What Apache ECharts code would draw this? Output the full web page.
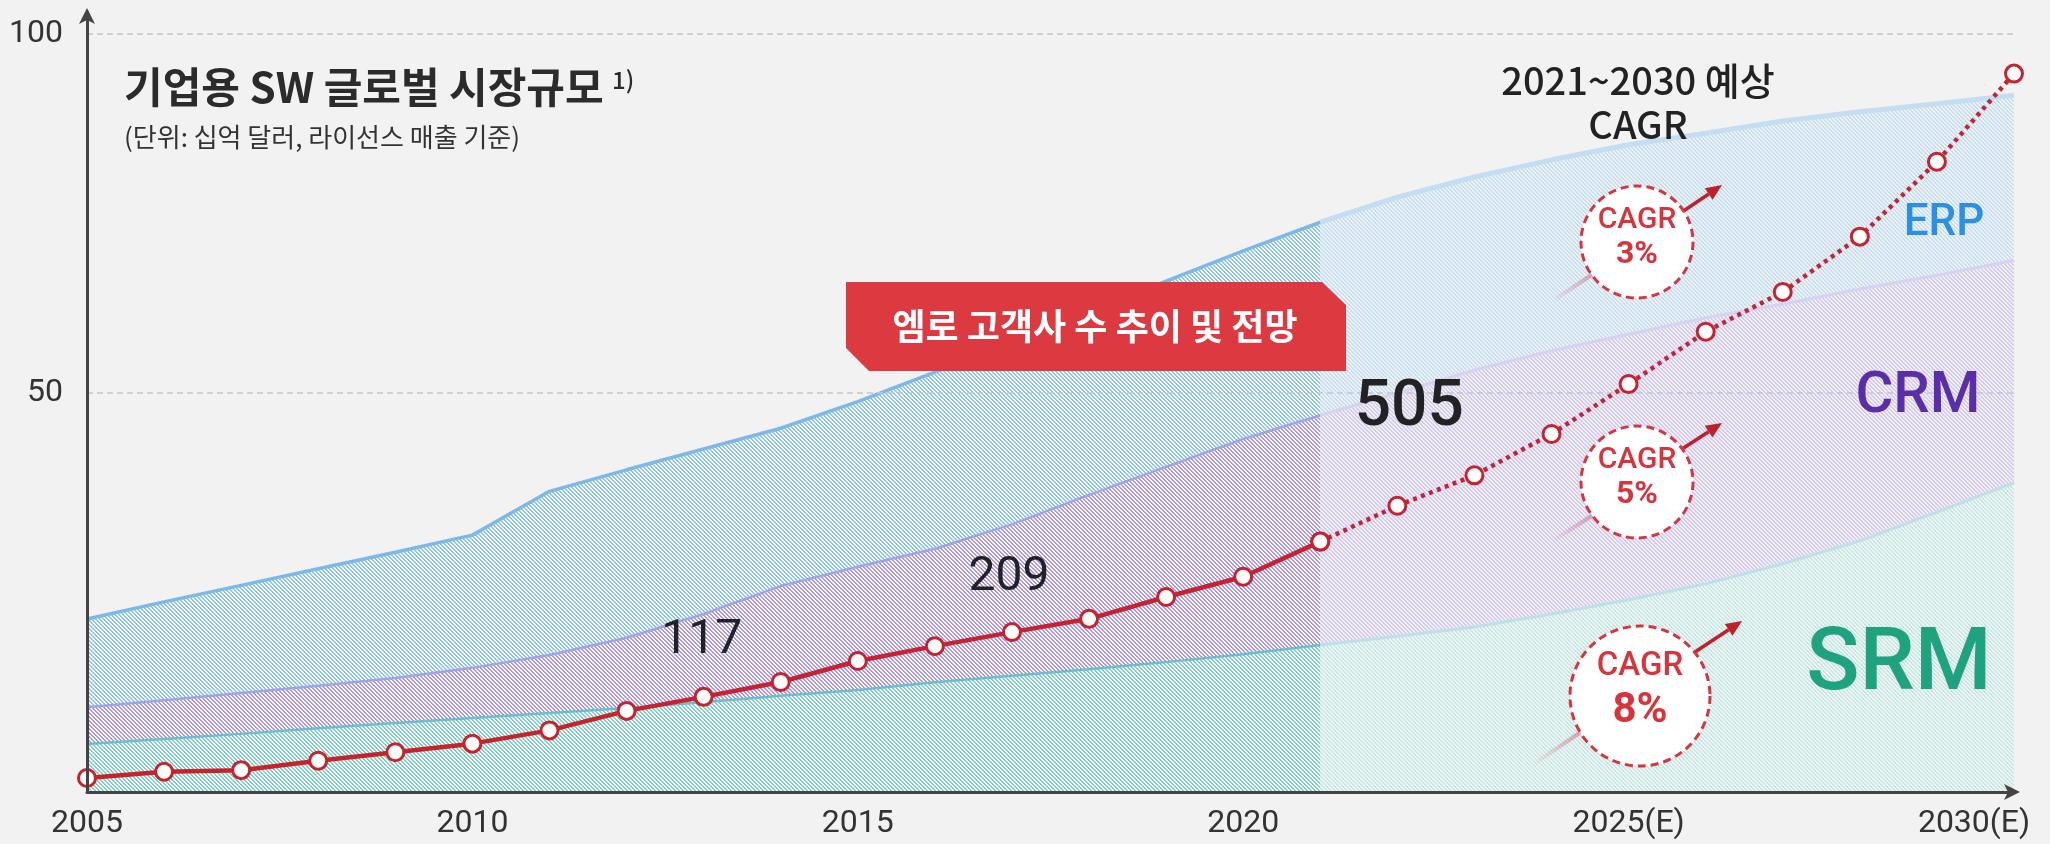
<!DOCTYPE html>
<html>
<head>
<meta charset="utf-8">
<script src="https://cdn.jsdelivr.net/npm/echarts@6/dist/echarts.min.js"></script>
<style>
  html, body { margin: 0; padding: 0; background: #f2f2f2; }
  #chart { width: 2050px; height: 844px; }
</style>
</head>
<body>
<div id="chart"></div>
<script>
// 연도 (카테고리)
const years = ['2005', '2006', '2007', '2008', '2009', '2010', '2011', '2012', '2013', '2014',
  '2015', '2016', '2017', '2018', '2019', '2020', '2021', '2022', '2023', '2024',
  '2025', '2026', '2027', '2028', '2029', '2030']

// 실적 구간 2005~2021 (SRM 은 축 하단부터 쌓임)
const srmActual = [1.1, 1.8, 2.5, 3.3, 4.0, 4.7, 5.4, 6.1, 6.9, 7.8, 8.6, 9.7, 10.6, 11.5, 12.5, 13.6, 14.9]
const crmActual = [5.1, 5.4, 5.7, 5.9, 6.3, 7.0, 8.1, 9.8, 12.3, 15.3, 17.2, 18.6, 21.1, 24.3, 27.2, 30.0, 32.0]
const erpActual = [12.3, 13.7, 15.0, 16.3, 17.5, 18.5, 22.8, 23.4, 23.0, 22.0, 23.0, 24.6, 25.4, 25.6, 25.9, 26.2, 26.9]

// 전망 구간 2021~2030
const srmForecast = [14.9, 16.1, 17.4, 19.2, 21.2, 23.4, 26.2, 29.4, 33.4, 37.5]
const crmForecast = [32.0, 33.9, 35.8, 36.7, 37.0, 37.1, 36.2, 35.1, 33.0, 31.0]
const erpForecast = [26.9, 27.3, 26.9, 26.6, 26.4, 25.7, 25.5, 24.7, 23.9, 23.0]

// 엠로 고객사 수 추이 (상대 높이, 2005~2030)
const customers = [1.8, 2.6, 2.8, 4.0, 5.1, 6.2, 7.9, 10.4, 12.2, 14.1, 16.8, 18.7, 20.5, 22.2,
  25.0, 27.6, 32.1, 36.7, 40.6, 45.9, 52.3, 59.0, 64.1, 71.2, 80.8, 92.1]
const customerYears = ['2013', '2017', '2021']
const customerCounts = ['117', '209', '505']

// y축 눈금
const yTicks = [50, 100]
const cagrRates = ['3%', '5%', '8%']

const lastActual = years.indexOf('2021')

function hatch(stripe, bg) {
    let c = document.createElement('canvas')
    c.width = 4
    c.height = 4
    let ctx = c.getContext('2d')
    ctx.fillStyle = bg
    ctx.fillRect(0, 0, 4, 4)
    ctx.fillStyle = stripe
    for (let y = 0; y < 4; y++) {
        for (let x = 0; x < 4; x++) {
            if ((((x - y) % 4) + 4) % 4 < 2) ctx.fillRect(x, y, 1, 1)
        }
    }
    return { image: c, repeat: 'repeat' }
}

function padActual(arr) {
    return arr.concat(new Array(years.length - arr.length).fill('-'))
}
function padForecast(arr) {
    return new Array(years.length - arr.length).fill('-').concat(arr)
}

function areaSeries(name, data, stack, fill, lineColor, lineWidth, first) {
    return {
        name: name,
        type: 'line',
        stack: stack,
        data: data,
        symbol: 'none',
        silent: true,
        lineStyle: { color: lineColor, width: lineWidth },
        areaStyle: { color: fill, opacity: 1, origin: first ? 'start' : 'auto' },
        z: 2
    }
}

// 고객사 수 라벨 위치
const labelOffsets = { '2013': [-2, -56], '2017': [-3, -54], '2021': [89, -133] }
const labelSizes = { '2013': 48, '2017': 48, '2021': 64 }

let redActual = customers.map(function (v, i) {
    if (i > lastActual) return '-'
    let k = customerYears.indexOf(years[i])
    if (k < 0) return v
    return {
        value: v,
        label: {
            show: true,
            position: 'inside',
            formatter: customerCounts[k],
            offset: labelOffsets[years[i]],
            fontFamily: 'Roboto',
            fontSize: labelSizes[years[i]],
            fontWeight: years[i] === '2021' ? 500 : 400,
            color: '#222'
        }
    }
})
let redForecast = customers.map(function (v, i) { return i < lastActual ? '-' : v })

const RED = '#c8232c'

function arrow(x1, y1, x2, y2) {
    let a = Math.atan2(y2 - y1, x2 - x1)
    let L = 16, W = 7
    let bx = x2 - L * Math.cos(a), by = y2 - L * Math.sin(a)
    return [
        { type: 'line', z: 100, shape: { x1: x1, y1: y1, x2: bx, y2: by }, style: { stroke: '#c0202a', lineWidth: 3.5 } },
        { type: 'polygon', z: 100, shape: { points: [[x2, y2], [bx - W * Math.sin(a), by + W * Math.cos(a)], [bx + W * Math.sin(a), by - W * Math.cos(a)]] }, style: { fill: '#c0202a' } }
    ]
}
function trail(x1, y1, x2, y2) {
    return {
        type: 'line', z: 99, shape: { x1: x1, y1: y1, x2: x2, y2: y2 },
        style: {
            lineWidth: 4,
            stroke: new echarts.graphic.LinearGradient(1, 0, 0, 1, [
                { offset: 0, color: 'rgba(205,95,105,0.55)' },
                { offset: 1, color: 'rgba(205,95,105,0)' }
            ])
        }
    }
}
function bubble(cx, cy, r, rate, s1, s2, dy1, dy2) {
    return [
        { type: 'circle', z: 101, shape: { cx: cx, cy: cy, r: r }, style: { fill: '#fff', stroke: '#d8343c', lineWidth: 3, lineDash: [8, 5] } },
        { type: 'text', z: 102, style: { text: 'CAGR', x: cx, y: cy + dy1, textAlign: 'center', textVerticalAlign: 'middle', font: '500 ' + s1 + 'px Roboto', fill: '#d8343c' } },
        { type: 'text', z: 102, style: { text: rate, x: cx, y: cy + dy2, textAlign: 'center', textVerticalAlign: 'middle', font: 'bold ' + s2 + 'px Roboto', fill: '#d8343c' } }
    ]
}

let graphics = [
    { type: 'text', z: 100, style: { text: '기업용 SW 글로벌 시장규모', x: 124, y: 87, textVerticalAlign: 'middle', font: 'bold 42px "Noto Sans CJK KR"', fill: '#2b2b2b' } },
    { type: 'text', z: 100, style: { text: '1)', x: 612, y: 80, textVerticalAlign: 'middle', font: '500 24px "Noto Sans CJK KR"', fill: '#2b2b2b' } },
    { type: 'text', z: 100, style: { text: '(단위: 십억 달러, 라이선스 매출 기준)', x: 124, y: 137, textVerticalAlign: 'middle', font: '26px "Noto Sans CJK KR"', fill: '#333' } },
    { type: 'text', z: 100, style: { text: '2021~2030 예상', x: 1638, y: 81, textAlign: 'center', textVerticalAlign: 'middle', font: '500 38px "Noto Sans CJK KR"', fill: '#222' } },
    { type: 'text', z: 100, style: { text: 'CAGR', x: 1638, y: 125, textAlign: 'center', textVerticalAlign: 'middle', font: '500 38px "Noto Sans CJK KR"', fill: '#222' } },
    // 빨간 박스
    { type: 'polygon', z: 100, shape: { points: [[846, 282], [1322, 282], [1346, 305], [1346, 371], [869, 371], [846, 348]] }, style: { fill: '#dc3a40' } },
    { type: 'text', z: 101, style: { text: '엠로 고객사 수 추이 및 전망', x: 1095, y: 326, textAlign: 'center', textVerticalAlign: 'middle', font: 'bold 36px "Noto Sans CJK KR"', fill: '#fff' } },
    // 영역 이름
    { type: 'text', z: 100, style: { text: 'ERP', x: 1944, y: 224, textAlign: 'center', textVerticalAlign: 'middle', font: '500 44px Roboto', fill: '#2b8fe3' } },
    { type: 'text', z: 100, style: { text: 'CRM', x: 1918, y: 397, textAlign: 'center', textVerticalAlign: 'middle', font: '500 58px Roboto', fill: '#5a2ea6' } },
    { type: 'text', z: 100, style: { text: 'SRM', x: 1899, y: 667, textAlign: 'center', textVerticalAlign: 'middle', font: '500 88px Roboto', fill: '#1fa37f' } },
    trail(1593, 274, 1554, 300),
    trail(1593, 515, 1554, 540),
    trail(1581, 732, 1535, 763)
]
graphics = graphics
    .concat(arrow(1682, 212, 1722, 185))
    .concat(arrow(1682, 449, 1722, 423))
    .concat(arrow(1695, 652, 1742, 621))
    .concat(bubble(1637, 242, 56, cagrRates[0], 30, 32, -22, 13))
    .concat(bubble(1637, 482, 56, cagrRates[1], 30, 32, -22, 13))
    .concat(bubble(1640, 696, 70, cagrRates[2], 33, 42, -29, 15))

let option = {
    backgroundColor: '#f2f2f2',
    animation: false,
    grid: { left: 87, right: 36, top: 12, bottom: 52 },
    xAxis: {
        type: 'category',
        data: years,
        boundaryGap: false,
        z: 10,
        axisLine: {
            onZero: false,
            lineStyle: { color: '#444', width: 3 },
            symbol: ['none', 'arrow'],
            symbolSize: [12, 16],
            symbolOffset: [0, 6]
        },
        axisTick: { show: false },
        axisLabel: {
            interval: 4,
            margin: 16,
            fontFamily: 'Roboto',
            fontSize: 32,
            color: '#333',
            formatter: function (v) {
                if (v === '2030') return '{last|2030(E)}'
                if (+v >= 2025) return v + '(E)'
                return v
            },
            rich: {
                last: { fontFamily: 'Roboto', fontSize: 32, color: '#333', padding: [0, 80, 0, 0] }
            }
        }
    },
    yAxis: [
        {
            type: 'value',
            min: -5.6,
            max: 103.1,
            z: 10,
            axisLine: {
                show: true,
                onZero: false,
                lineStyle: { color: '#444', width: 3 },
                symbol: ['none', 'arrow'],
                symbolSize: [12, 16],
                symbolOffset: [0, 4]
            },
            axisTick: { show: false },
            splitLine: { show: false },
            axisLabel: {
                customValues: yTicks,
                margin: 24,
                fontFamily: 'Roboto',
                fontSize: 32,
                color: '#333'
            }
        },
        { type: 'value', min: 0, max: 100, show: false }
    ],
    series: [
        areaSeries('SRM', padActual(srmActual), 'actual', hatch('#80d0c8', '#ffffff'), '#6fbccb', 2.5, true),
        areaSeries('CRM', padActual(crmActual), 'actual', hatch('#a994ee', '#ffffff'), '#a0a3ec', 2.5, false),
        areaSeries('ERP', padActual(erpActual), 'actual', hatch('#8cc4f0', '#ffffff'), '#7cb9ea', 3.5, false),
        areaSeries('SRM 전망', padForecast(srmForecast), 'forecast', hatch('#c6e6e2', '#f1f6f6'), '#c0e0e4', 3, true),
        areaSeries('CRM 전망', padForecast(crmForecast), 'forecast', hatch('#d4cbf3', '#f1eff8'), '#d6d3f2', 3, false),
        Object.assign(areaSeries('ERP 전망', padForecast(erpForecast), 'forecast', hatch('#c6def2', '#f0f4f8'), '#c4ddf2', 5, false), {
            markLine: {
                silent: true,
                symbol: 'none',
                label: { show: false },
                lineStyle: { type: [6, 4], color: '#c6c6c6', width: 1.5 },
                data: yTicks.map(function (t) { return { yAxis: t } })
            }
        }),
        {
            name: '고객사 수',
            type: 'line',
            yAxisIndex: 1,
            data: redActual,
            symbol: 'circle',
            symbolSize: 17,
            showAllSymbol: true,
            itemStyle: { color: '#fff', borderColor: RED, borderWidth: 3 },
            lineStyle: { color: RED, width: 4.5 },
            z: 6
        },
        {
            name: '고객사 수 전망',
            type: 'line',
            yAxisIndex: 1,
            data: redForecast,
            symbol: 'circle',
            symbolSize: 17,
            showAllSymbol: true,
            itemStyle: { color: '#fff', borderColor: RED, borderWidth: 3 },
            lineStyle: { color: RED, width: 4.5, type: [4, 4.5] },
            z: 6
        }
    ],
    graphic: graphics
}

let myChart = echarts.init(document.getElementById('chart'))
myChart.setOption(option)
</script>
</body>
</html>
